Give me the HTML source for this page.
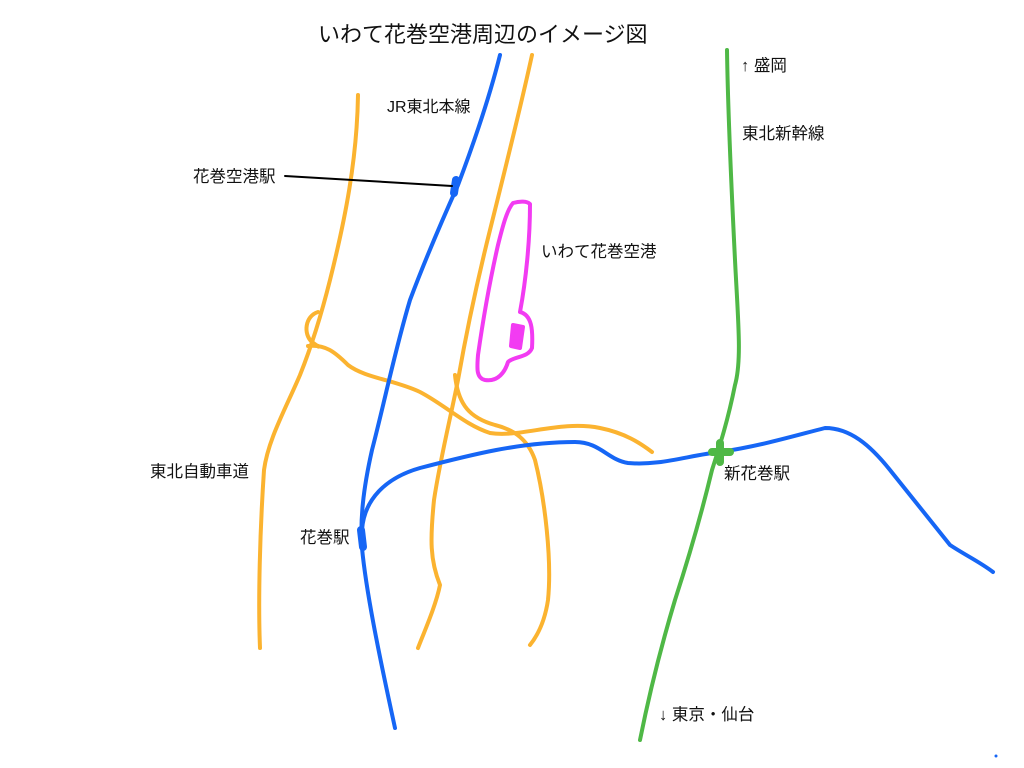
<!DOCTYPE html>
<html><head><meta charset="utf-8"><style>
html,body{margin:0;padding:0;background:#fff;}
svg{display:block}
text{font-family:"Liberation Sans","Noto Sans CJK JP",sans-serif;fill:#111;}
</style></head><body>
<svg width="1024" height="768" viewBox="0 0 1024 768" xmlns="http://www.w3.org/2000/svg">
<g fill="none" stroke-linecap="round" stroke-linejoin="round">
<g stroke="#FBB330" stroke-width="4">
<path d="M358,95 C357,160 345,220 330,280 C320,320 310,350 300,375 C285,410 268,440 264,470 C260,530 258,600 260,648"/>
<path d="M318,312 C305,316 303,334 312,342 C316,345 320,348 318,346"/>
<path d="M308,346 C325,344 335,352 348,365 C365,378 395,380 420,392 C445,405 465,425 490,433 C520,438 560,420 600,428 C625,433 640,443 652,452"/>
<path d="M532,55 C520,110 505,170 490,230 C475,290 465,340 458,380 C450,420 440,460 434,500 C430,540 430,560 440,585 C436,605 425,630 418,648"/>
<path d="M455,375 C458,405 470,418 495,425 C515,430 528,440 535,460 C545,500 552,560 548,600 C545,620 538,635 530,645"/>
</g>
<g stroke="#1666F5" stroke-width="4">
<path d="M500,55 C490,95 475,140 458,185 C440,225 425,260 410,300 C395,350 385,400 372,450 C363,490 360,520 362,548 C366,590 378,650 395,728"/>
<path d="M362,530 C364,500 385,478 420,468 C470,455 520,442 575,442 C600,442 608,460 628,463 C660,466 690,455 720,452 C760,446 790,437 825,428 C850,428 870,445 890,470 C910,495 930,520 950,545 C965,555 980,562 993,572"/>
<path d="M456,180 L454,193" stroke-width="8"/>
<path d="M361,530 L363,547" stroke-width="8"/>
</g>
<g stroke="#4FB846" stroke-width="4">
<path d="M727,50 C728,120 732,200 735,260 C738,320 742,360 735,385 C728,420 720,445 712,470 C700,520 688,560 675,600 C660,650 648,700 640,740"/>
<path d="M712,452 L730,452 M720,443 L720,462" stroke-width="8"/>
</g>
<g stroke="#F23BF2" stroke-width="4">
<path d="M513,203 C520,201 527,201 530,204 C530,240 526,280 520,312 C532,315 533,330 532,348 C528,358 514,356 508,362 C505,372 498,382 485,380 C476,378 477,368 478,355 C483,320 490,280 498,245 C503,225 507,210 513,203 Z"/>
<path d="M513,325 L523,327 L520,348 L511,346 Z" fill="#F23BF2"/>
</g>
<path d="M285,176 L452,186" stroke="#000" stroke-width="2"/>
<circle cx="996" cy="756" r="1.5" fill="#1666F5" stroke="none"/>
</g>
<text x="318" y="42" font-size="22">いわて花巻空港周辺のイメージ図</text>
<text x="387" y="112" font-size="16">JR東北本線</text>
<text x="193" y="182" font-size="16.5">花巻空港駅</text>
<text x="541" y="257" font-size="16.5">いわて花巻空港</text>
<text x="741" y="71" font-size="16.5">↑ 盛岡</text>
<text x="742" y="139" font-size="16.5">東北新幹線</text>
<text x="150" y="477" font-size="16.5">東北自動車道</text>
<text x="724" y="479" font-size="16.5">新花巻駅</text>
<text x="300" y="543" font-size="16.5">花巻駅</text>
<text x="659" y="720" font-size="16.5">↓ 東京・仙台</text>
</svg>
</body></html>
